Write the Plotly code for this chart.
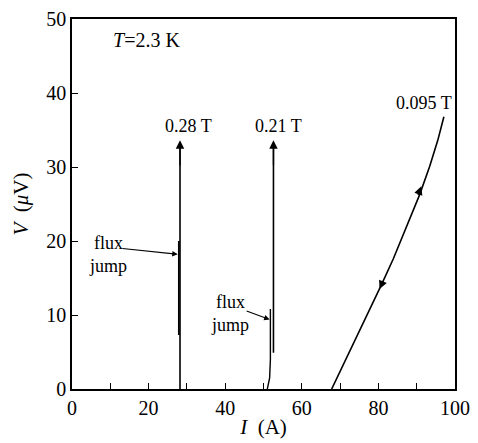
import plotly.graph_objects as go

# 0.28 T trace
i_028 = [28.2, 28.2]
v_028 = [0, 33.0]
i_028_jump = [27.9, 27.9]
v_028_jump = [7.3, 20.0]

# 0.21 T trace
i_021_low = [51.0, 51.6, 51.8, 51.8]
v_021_low = [0, 1.5, 4.0, 10.8]
i_021_high = [52.6, 52.6]
v_021_high = [4.9, 33.0]

# 0.095 T trace
i_0095 = [67.8, 70.5, 74.0, 76.6, 79.1, 80.9, 83.9, 87.3, 90.8, 93.4, 95.5, 97.1]
v_0095 = [0.0, 2.9, 6.6, 9.4, 12.2, 14.2, 17.6, 21.8, 26.3, 30.1, 33.6, 36.8]

labels = ["0.28 T", "0.21 T", "0.095 T"]
label_i = [30.3, 54.0, 92.0]
label_v = [35.5, 35.5, 38.6]

FONT = "'Liberation Serif', 'Times New Roman', serif"
fig = go.Figure()
for xs, ys, w in [(i_028, v_028, 1.6), (i_028_jump, v_028_jump, 1.8),
                  (i_021_low, v_021_low, 1.4), (i_021_high, v_021_high, 1.6),
                  (i_0095, v_0095, 1.6)]:
    fig.add_trace(go.Scatter(x=xs, y=ys, mode="lines",
                             line=dict(color="black", width=w), showlegend=False))

AC = "black"
ann = []
for xi, top in [(i_028[0], v_028[1]), (i_021_high[0], v_021_high[1])]:
    ann.append(dict(x=xi, y=top + 0.6, ax=xi, ay=top - 3, xref="x", yref="y",
                    axref="x", ayref="y", showarrow=True, arrowhead=2, arrowcolor=AC,
                    arrowsize=1.3, arrowwidth=1.3, text=""))
ann.append(dict(x=91.2, y=27.4, ax=90.2, ay=26.0, xref="x", yref="y", axref="x",
                ayref="y", showarrow=True, arrowhead=2, arrowsize=1.3, arrowcolor=AC,
                arrowwidth=1.3, text=""))
ann.append(dict(x=80.3, y=13.5, ax=81.4, ay=14.8, xref="x", yref="y", axref="x",
                ayref="y", showarrow=True, arrowhead=2, arrowsize=1.3, arrowcolor=AC,
                arrowwidth=1.3, text=""))
ann.append(dict(x=27.6, y=18.2, ax=12.8, ay=19.0, xref="x", yref="y", axref="x",
                ayref="y", showarrow=True, arrowhead=2, arrowsize=1.0, arrowcolor=AC,
                arrowwidth=1.1, text=""))
ann.append(dict(x=51.6, y=9.4, ax=45.2, ay=10.6, xref="x", yref="y", axref="x",
                ayref="y", showarrow=True, arrowhead=2, arrowsize=1.0, arrowcolor=AC,
                arrowwidth=1.1, text=""))
for t, xi, yi in zip(labels, label_i, label_v):
    ann.append(dict(x=xi, y=yi, xref="x", yref="y", text=t, showarrow=False,
                    font=dict(family=FONT, size=18, color="black")))
ann.append(dict(x=9.5, y=18.2, xref="x", yref="y", text="flux<br>jump", showarrow=False,
                align="center", font=dict(family=FONT, size=18, color="black")))
ann.append(dict(x=41.3, y=10.2, xref="x", yref="y", text="flux<br>jump", showarrow=False,
                align="center", font=dict(family=FONT, size=18, color="black")))
ann.append(dict(x=10.3, y=47.1, xref="x", yref="y", text="<i>T</i>=2.3 K", showarrow=False,
                xanchor="left", font=dict(family=FONT, size=20, color="black")))

fig.update_layout(
    width=478, height=443,
    margin=dict(l=72, r=19, t=8, b=54),
    plot_bgcolor="white", paper_bgcolor="white",
    annotations=ann,
    font=dict(family=FONT, color="black", size=20),
    xaxis=dict(range=[0, 100], tickvals=[0, 20, 40, 60, 80, 100],
               tickfont=dict(family=FONT, size=20, color="black"),
               ticklabeloverflow="allow",
               ticks="inside", ticklen=6, tickcolor="black",
               minor=dict(tickvals=[10, 30, 50, 70, 90], ticks="inside", ticklen=6, tickcolor="black"),
               showgrid=False, zeroline=False, showline=True, linecolor="black",
               linewidth=1.5, mirror=True,
               title=dict(text="<i>I</i>  (A)", font=dict(family=FONT, size=21), standoff=2)),
    yaxis=dict(range=[0, 50], tickvals=[0, 10, 20, 30, 40, 50],
               tickfont=dict(family=FONT, size=20, color="black"),
               ticklabeloverflow="allow",
               ticks="inside", ticklen=6, tickcolor="black",
               showgrid=False, zeroline=False, showline=True, linecolor="black",
               linewidth=1.5, mirror=True,
               title=dict(text="<i>V</i>  (<i>μ</i>V)", font=dict(family=FONT, size=21), standoff=12)),
)
fig.write_html("out.html")
